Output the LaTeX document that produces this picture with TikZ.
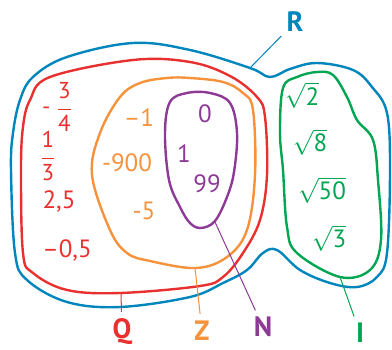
\documentclass[tikz,border=0pt]{standalone}
\usepackage{fontspec}
\setmainfont{PT Sans}
\usetikzlibrary{positioning}

\definecolor{colR}{RGB}{0,133,188}
\definecolor{colQ}{RGB}{232,49,47}
\definecolor{colZ}{RGB}{246,146,60}
\definecolor{colN}{RGB}{140,58,150}
\definecolor{colI}{RGB}{0,166,81}

\begin{document}
\begin{tikzpicture}[
        x=1pt, y=-1pt,
        setline/.style={line width=2.4pt, line join=round},
        stub/.style={line width=1pt, shorten >=6pt},
        num/.style={font=\fontsize{25}{30}\selectfont, inner sep=0pt},
        fracnum/.style={font=\fontsize{23}{27}\selectfont, inner sep=0pt},
        setname/.style={font=\fontsize{28}{32}\selectfont\bfseries, inner sep=1pt}
    ]
    \useasboundingbox (0,0) rectangle (392,350);

    \draw[setline, colR] plot[smooth cycle, tension=0.6] coordinates {
        (11,170) (13,133) (20,100) (33,77) (67,57) (133,43) (190,50) (250,68)
        (270,77) (290,69) (317,63) (353,70) (372,87) (387,113) (390,170)
        (387,253) (377,277) (357,287) (330,283) (300,270) (277,250) (263,253)
        (247,270) (223,283) (190,297) (120,307) (67,302) (27,280) (15,253)};
    \draw[setline, colQ] plot[smooth cycle, tension=0.6] coordinates {
        (21,170) (23,127) (30,100) (50,77) (133,60) (190,62) (230,76) (257,97)
        (265,117) (267,175) (260,220) (243,253) (223,277) (200,286) (120,293)
        (67,290) (33,273) (23,253)};
    \draw[setline, colZ] plot[smooth cycle, tension=0.6] coordinates {
        (92,175) (100,133) (120,97) (140,83) (167,78) (190,78) (223,82)
        (243,93) (253,110) (255,175) (247,230) (227,257) (196,268)
        (150,261) (127,253) (110,230)};
    \draw[setline, colN] plot[smooth cycle, tension=0.6] coordinates {
        (165,133) (170,102) (187,93) (210,93) (230,103) (237,133) (234,172)
        (227,197) (215,221) (201,228) (190,223) (180,207) (169,180)};
    \draw[setline, colI] plot[smooth cycle, tension=0.6] coordinates {
        (280,133) (283,88) (297,77) (317,72) (333,75) (347,97) (357,120)
        (373,140) (378,180) (381,240) (370,270) (340,277) (297,253) (287,227)
        (283,170)};

    \node[fracnum, text=colQ] (minusfrac) at (57,107) {-\;$\displaystyle\frac{\mbox{3}}{\mbox{4}}$};
    \node[fracnum, text=colQ] (third) at (48,156) {$\displaystyle\frac{\mbox{1}}{\mbox{3}}$};
    \node[num, text=colQ] (twofive) at (59,201) {2,5};
    \node[num, text=colQ] (mzerofive) at (67,250) {--0,5};

    \node[num, text=colZ] (mone) at (139,118) {--1};
    \node[num, text=colZ] (mnine) at (127,163) {-900};
    \node[num, text=colZ] (mfive) at (144,211) {-5};

    \node[num, text=colN] (zero) at (205,114) {0};
    \node[num, text=colN] (one) at (184,154) {1};
    \node[num, text=colN] (ninetynine) at (207,184) {99};

    \node[num, text=colI] (sqtwo) at (302,95) {$\sqrt{\mbox{2}}$};
    \node[num, text=colI] (sqeight) at (310,142) {$\sqrt{\mbox{8}}$};
    \node[num, text=colI] (sqfifty) at (322,190) {$\sqrt{\mbox{50}}$};
    \node[num, text=colI] (sqthree) at (329,238) {$\sqrt{\mbox{3}}$};

    \node[setname, text=colR] (nameR) at (295,22) {R};
    \node[setname, text=colQ] (nameQ) at (122,332) {Q};
    \node[setname, text=colZ] (nameZ) at (202,331) {Z};
    \node[setname, text=colN] (nameN) at (263,327) {N};
    \node[setname, text=colI] (nameI) at (360,333) {I};

    \coordinate (footR) at (250,68);
    \coordinate (footQ) at (121,293);
    \coordinate (footZ) at (195,268);
    \coordinate (footN) at (215,222);
    \coordinate (footI) at (340,277);

    \draw[stub, colR] (footR) -- (nameR);
    \draw[stub, colQ] (footQ) -- (nameQ);
    \draw[stub, colZ] (footZ) -- (nameZ);
    \draw[stub, colN] (footN) -- (nameN);
    \draw[stub, colI] (footI) -- (nameI);

\end{tikzpicture}
\end{document}
